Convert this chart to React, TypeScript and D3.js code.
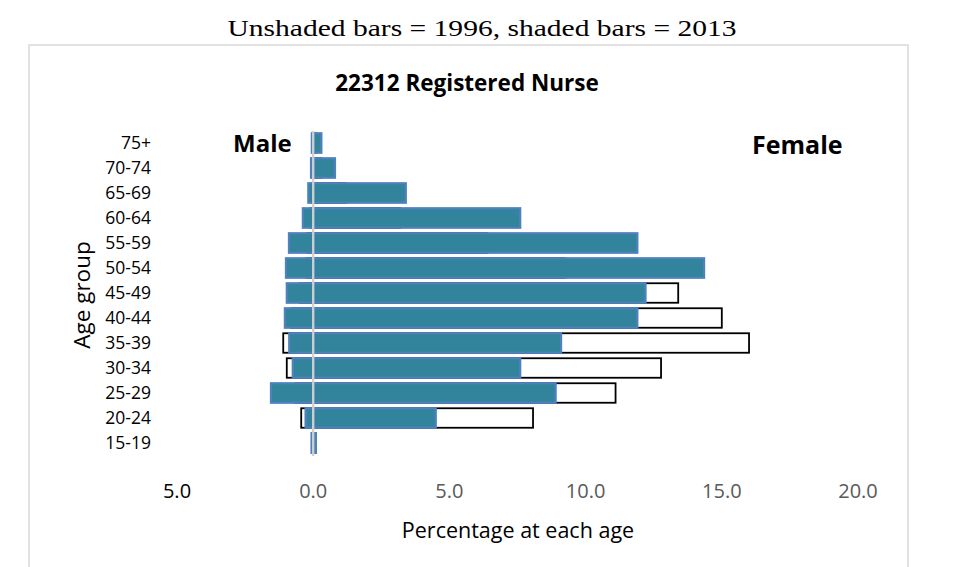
import React from "react";
import * as d3 from "d3";

const ageGroups = ["15-19", "20-24", "25-29", "30-34", "35-39", "40-44", "45-49", "50-54", "55-59", "60-64", "65-69", "70-74", "75+"];
const female2013 = [0.1, 4.5, 8.9, 7.6, 9.1, 11.9, 12.2, 14.35, 11.9, 7.6, 3.4, 0.8, 0.3];
const male2013 = [0.06, 0.28, 1.55, 0.75, 0.88, 1.04, 0.97, 1.0, 0.89, 0.38, 0.18, 0.08, 0.05];
const female1996 = [0.1, 8.07, 11.1, 12.77, 16.0, 15.0, 13.4, 9.25, 6.4, 3.2, 1.2, 0.3, 0.1];
const male1996 = [0.05, 0.44, 0.66, 0.97, 1.1, 0.8, 0.5, 0.25, 0.23, 0.1, 0.05, 0.02, 0.01];
const xTicks = [-5, 0, 5, 10, 15, 20];

const W = 963;
const H = 567;
const SANS = "'Open Sans', sans-serif";

export default function App() {
  const x = d3.scaleLinear().domain([-5, 20]).range([177, 858]);
  const y = d3
    .scaleBand<string>()
    .domain([...ageGroups].reverse())
    .range([130.5, 455.5])
    .paddingInner(0.22)
    .paddingOuter(0.11);
  const bh = y.bandwidth();
  const fmt = d3.format(".1f");

  const rows = ageGroups.map((g, i) => ({
    g,
    f13: female2013[i],
    m13: male2013[i],
    f96: female1996[i],
    m96: male1996[i],
  }));

  return (
    <svg width={W} height={H} style={{ position: "absolute", left: 0, top: 0, background: "#fff" }}>
      <rect x={0} y={0} width={W} height={H} fill="#fff" />
      <text
        x={482}
        y={36}
        textAnchor="middle"
        fontFamily="'Liberation Serif', serif"
        fontSize={24}
        textLength={509}
        lengthAdjust="spacingAndGlyphs"
        fill="#000"
      >
        Unshaded bars = 1996, shaded bars = 2013
      </text>
      <rect x={29} y={45} width={879} height={560} fill="#fff" stroke="#D9D9D9" strokeWidth={1.5} />
      <text x={467} y={91} textAnchor="middle" fontFamily={SANS} fontWeight="bold" fontSize={22.5} fill="#000">
        22312 Registered Nurse
      </text>

      {/* 1996 unshaded bars */}
      {rows.map((r) => (
        <rect
          key={"f96" + r.g}
          x={x(0)}
          y={y(r.g)!}
          width={x(r.f96) - x(0)}
          height={bh}
          fill="#fff"
          stroke="#000"
          strokeWidth={1.8}
        />
      ))}
      {rows.map((r) => (
        <rect
          key={"m96" + r.g}
          x={x(-r.m96)}
          y={y(r.g)!}
          width={x(0) - x(-r.m96)}
          height={bh}
          fill="#fff"
          stroke="#000"
          strokeWidth={1.8}
        />
      ))}
      {/* 2013 shaded bars */}
      {rows.map((r) => (
        <rect
          key={"f13" + r.g}
          x={x(0)}
          y={y(r.g)!}
          width={x(r.f13) - x(0)}
          height={bh}
          fill="#31849B"
          stroke="#4F81BD"
          strokeWidth={2.2}
        />
      ))}
      {rows.map((r) => (
        <rect
          key={"m13" + r.g}
          x={x(-r.m13)}
          y={y(r.g)!}
          width={x(0) - x(-r.m13)}
          height={bh}
          fill="#31849B"
          stroke="#4F81BD"
          strokeWidth={2.2}
        />
      ))}

      <line x1={x(0)} x2={x(0)} y1={131} y2={456} stroke="#D0D0D0" strokeWidth={2.3} />

      {ageGroups.map((g) => (
        <text
          key={"yl" + g}
          x={151}
          y={y(g)! + bh / 2}
          dy="0.35em"
          textAnchor="end"
          fontFamily={SANS}
          fontSize={17.5}
          fill="#000"
        >
          {g}
        </text>
      ))}

      {xTicks.map((t) => (
        <text
          key={"xt" + t}
          x={x(t)}
          y={491}
          dy="0.35em"
          textAnchor="middle"
          fontFamily={SANS}
          fontSize={20}
          fill={t < 0 ? "#000" : "#595959"}
        >
          {fmt(Math.abs(t))}
        </text>
      ))}

      <text x={518} y={530} dy="0.35em" textAnchor="middle" fontFamily={SANS} fontSize={21.5} fill="#000">
        Percentage at each age
      </text>
      <text
        transform="translate(82,295) rotate(-90)"
        textAnchor="middle"
        dy="0.35em"
        fontFamily={SANS}
        fontSize={22.5}
        fill="#000"
      >
        Age group
      </text>

      <text x={233} y={152} fontFamily={SANS} fontWeight="bold" fontSize={24} fill="#000">
        Male
      </text>
      <text x={752} y={154} fontFamily={SANS} fontWeight="bold" fontSize={25} fill="#000">
        Female
      </text>
    </svg>
  );
}
